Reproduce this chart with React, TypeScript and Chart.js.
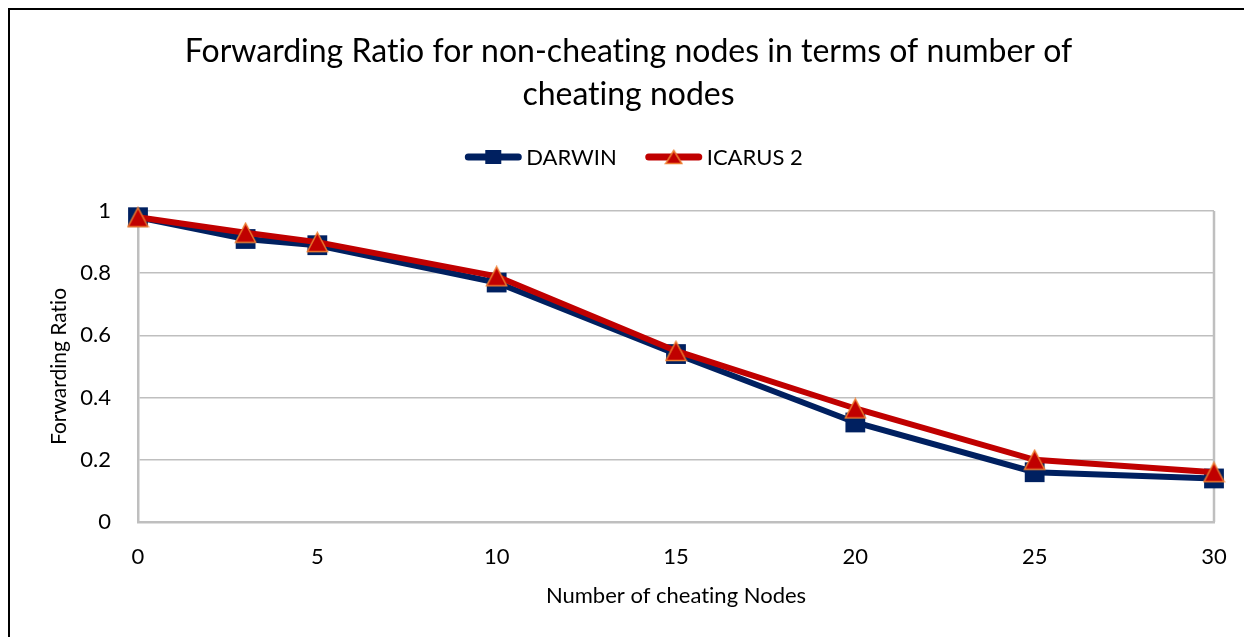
import React, { useEffect, useRef } from 'react';
import { Chart, registerables } from 'chart.js';

Chart.register(...registerables);

// ---- data ----
const cheatingNodes = [0, 3, 5, 10, 15, 20, 25, 30];
const darwinRatio = [0.98, 0.91, 0.89, 0.77, 0.54, 0.32, 0.16, 0.14];
const icarusRatio = [0.98, 0.93, 0.9, 0.79, 0.55, 0.365, 0.2, 0.16];
const seriesNames = ['DARWIN', 'ICARUS 2'];
const titleLines = ['Forwarding Ratio for non-cheating nodes in terms of number of', 'cheating nodes'];
const xAxisTitle = 'Number of cheating Nodes';
const yAxisTitle = 'Forwarding Ratio';

// ---- style ----
const NAVY = '#002060';
const RED = '#C00000';
const ORANGE = '#ED7D31';
const GRID = '#BFBFBF';
const FONT = 'Lato, Carlito, Calibri, sans-serif';

function makeTriangle(w: number, h: number, lw: number): HTMLCanvasElement {
  const c = document.createElement('canvas');
  c.width = Math.ceil(w + lw * 2);
  c.height = Math.ceil(h + lw * 2);
  const ctx = c.getContext('2d')!;
  ctx.beginPath();
  ctx.moveTo(c.width / 2, lw);
  ctx.lineTo(c.width / 2 + w / 2, lw + h);
  ctx.lineTo(c.width / 2 - w / 2, lw + h);
  ctx.closePath();
  ctx.fillStyle = RED;
  ctx.fill();
  ctx.lineWidth = lw;
  ctx.strokeStyle = ORANGE;
  ctx.stroke();
  return c;
}

const noLigaturePlugin = {
  id: 'noLigature',
  beforeDraw(chart: any) {
    const ctx: any = chart.ctx;
    if ('textRendering' in ctx) ctx.textRendering = 'optimizeSpeed';
  },
};

const plotBorderPlugin = {
  id: 'plotBorder',
  beforeDatasetsDraw(chart: any) {
    const { ctx, chartArea } = chart;
    ctx.save();
    ctx.strokeStyle = GRID;
    ctx.lineWidth = 2.5;
    ctx.beginPath();
    ctx.moveTo(chartArea.right, chartArea.top);
    ctx.lineTo(chartArea.right, chartArea.bottom);
    ctx.stroke();
    ctx.restore();
  },
};

function makeLegendPlugin(legendTri: HTMLCanvasElement) {
  return {
    id: 'lineLegend',
    afterDraw(chart: any) {
      const ctx = chart.ctx;
      ctx.save();
      ctx.font = `22px ${FONT}`;
      ctx.textBaseline = 'middle';
      ctx.textAlign = 'left';
      const symW = 56;
      const gapText = 5;
      const gapItem = 29;
      const widths = seriesNames.map((n) => symW + gapText + ctx.measureText(n).width);
      const total = widths.reduce((a, b) => a + b, 0) + gapItem * (widths.length - 1);
      let x = chart.width / 2 - total / 2 + 3;
      const y = 147;
      seriesNames.forEach((name, i) => {
        const color = i === 0 ? NAVY : RED;
        ctx.strokeStyle = color;
        ctx.lineWidth = 7;
        ctx.lineCap = 'round';
        ctx.beginPath();
        ctx.moveTo(x + 3, y);
        ctx.lineTo(x + symW - 3, y);
        ctx.stroke();
        const cx = x + symW / 2;
        if (i === 0) {
          ctx.fillStyle = NAVY;
          ctx.fillRect(cx - 8, y - 7, 16, 14);
        } else {
          ctx.drawImage(legendTri, cx - legendTri.width / 2, y - legendTri.height / 2);
        }
        ctx.fillStyle = '#000';
        ctx.fillText(name, x + symW + gapText, y + 1);
        x += widths[i] + gapItem;
      });
      ctx.restore();
    },
  };
}

export default function App() {
  const ref = useRef<HTMLCanvasElement>(null);

  useEffect(() => {
    if (!ref.current) return;
    const tri = makeTriangle(20, 19, 1.5);
    const legendTri = makeTriangle(16, 13, 1.5);
    const chart = new Chart(ref.current, {
      type: 'line',
      data: {
        datasets: [
          {
            label: seriesNames[0],
            data: cheatingNodes.map((x, i) => ({ x, y: darwinRatio[i] })),
            borderColor: NAVY,
            backgroundColor: NAVY,
            borderWidth: 6,
            pointStyle: 'rect',
            pointRadius: 14,
            pointBorderWidth: 0,
            pointBackgroundColor: NAVY,
            tension: 0,
            clip: false as any,
            order: 2,
          },
          {
            label: seriesNames[1],
            data: cheatingNodes.map((x, i) => ({ x, y: icarusRatio[i] })),
            borderColor: RED,
            backgroundColor: RED,
            borderWidth: 6,
            pointStyle: tri as any,
            pointRadius: 12,
            tension: 0,
            clip: false as any,
            order: 1,
          },
        ],
      },
      options: {
        animation: false,
        responsive: false,
        layout: { padding: { left: 33, right: 38, top: 0, bottom: 24 } },
        plugins: {
          legend: { display: false },
          tooltip: { enabled: false },
          title: {
            display: true,
            text: titleLines,
            color: '#000',
            font: { family: FONT, size: 32, weight: 'normal', lineHeight: '43px' } as any,
            padding: { top: 20.5, bottom: 94.5 },
          },
        },
        scales: {
          x: {
            type: 'linear',
            min: 0,
            max: 30,
            ticks: { stepSize: 5, padding: 22, color: '#000', font: { family: FONT, size: 22 } },
            grid: { display: false, drawTicks: false },
            border: { display: true, color: GRID, width: 2.5 },
            title: {
              display: true,
              text: xAxisTitle,
              color: '#000',
              font: { family: FONT, size: 22 },
              padding: { top: 4, bottom: 4 },
            },
            afterFit(s: any) {
              s.height = 91;
            },
          },
          y: {
            min: 0,
            max: 1,
            ticks: {
              stepSize: 0.2,
              padding: 27,
              color: '#000',
              font: { family: FONT, size: 22 },
              callback: (v: any) => String(Math.round(Number(v) * 10) / 10),
            },
            grid: { color: GRID, lineWidth: 1.5, drawTicks: false },
            border: { display: true, color: GRID, width: 2.5 },
            title: {
              display: true,
              text: yAxisTitle,
              color: '#000',
              font: { family: FONT, size: 21 },
              padding: { top: 4, bottom: 4 },
            },
            afterFit(s: any) {
              s.width = 95;
            },
          },
        },
      },
      plugins: [noLigaturePlugin, plotBorderPlugin, makeLegendPlugin(legendTri)],
    });
    return () => chart.destroy();
  }, []);

  return (
    <div
      style={{
        width: 1244,
        height: 629,
        boxSizing: 'border-box',
        borderLeft: '2px solid #000',
        borderTop: '2px solid #000',
        background: '#fff',
      }}
    >
      <canvas ref={ref} width={1242} height={627} style={{ display: 'block' }} />
    </div>
  );
}
